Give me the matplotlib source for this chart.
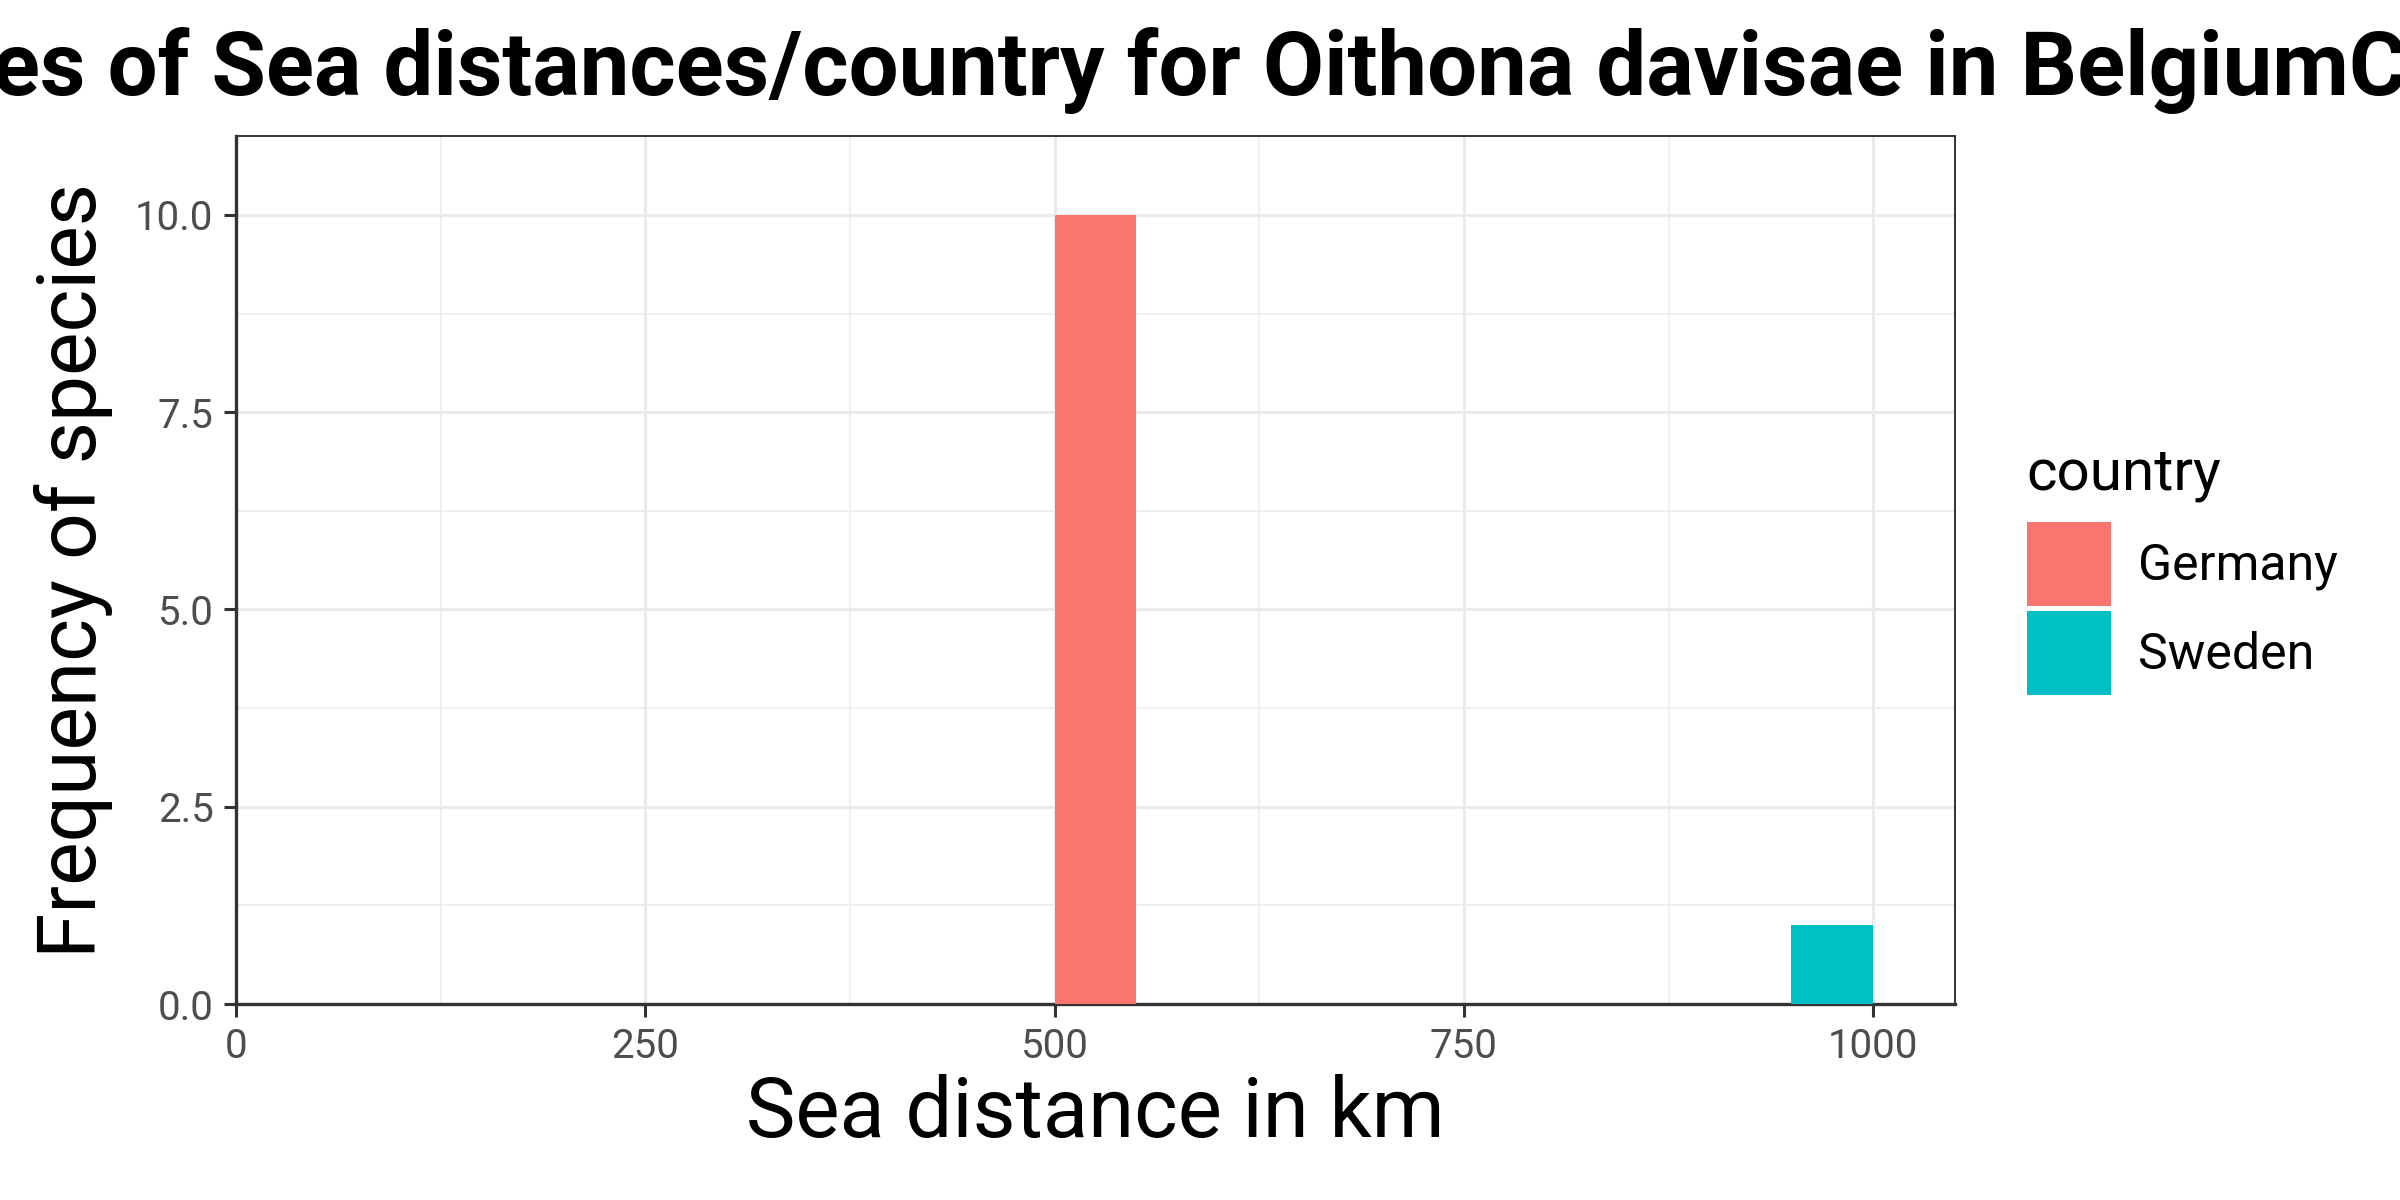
import matplotlib
matplotlib.use("Agg")
import matplotlib.pyplot as plt
from matplotlib.patches import Patch
from matplotlib.ticker import MultipleLocator

plt.rcParams['font.family'] = ['Roboto', 'DejaVu Sans']

# histogram bins (km) and counts per country
countries = ["Germany", "Sweden"]
bin_start = [500, 950]
counts = [10, 1]
bin_width = 50
colors = ["#F8766D", "#00BFC4"]

x_ticks = [0, 250, 500, 750, 1000]
y_ticks = [0.0, 2.5, 5.0, 7.5, 10.0]

title = "Frequencies of Sea distances/country for Oithona davisae in BelgiumC"

fig = plt.figure(figsize=(12, 6), dpi=200)
ax = fig.add_axes([236 / 2400, 1 - 1004 / 1200, (1955 - 236) / 2400, (1004 - 136) / 1200])

for c, x0, n, col in zip(countries, bin_start, counts, colors):
    ax.bar(x0, n, width=bin_width, align='edge', color=col, label=c, zorder=3)

ax.set_xlim(0, 1050)
ax.set_ylim(0, 11)
ax.set_xticks(x_ticks)
ax.set_yticks(y_ticks)
ax.xaxis.set_minor_locator(MultipleLocator(125))
ax.yaxis.set_minor_locator(MultipleLocator(1.25))
ax.set_yticklabels([f"{v:.1f}" for v in y_ticks])

ax.grid(which='major', color='#EBEBEB', linewidth=1.1, zorder=0)
ax.grid(which='minor', color='#EBEBEB', linewidth=0.55, zorder=0)
ax.set_axisbelow(True)

for s in ax.spines.values():
    s.set_color('#333333')
    s.set_linewidth(0.7)
ax.spines['bottom'].set_linewidth(1.2)
ax.spines['left'].set_linewidth(1.2)

ax.tick_params(which='major', length=4.5, width=1.1, color='#333333',
               labelcolor='#4D4D4D', labelsize=14.5, pad=3.6)
ax.tick_params(which='minor', length=0)

ax.set_xlabel("Sea distance in km", fontsize=30, labelpad=3)
ax.set_ylabel("Frequency of species", fontsize=29.5, labelpad=8)

# title is wider than the figure and gets cut on both sides;
# size it so "es ... Belgium" spans about the same width as the reference
fig.canvas.draw()
r = fig.canvas.get_renderer()
probe = fig.text(0, 0, "es of Sea distances/country for Oithona davisae in Belgium",
                 fontsize=32, fontweight='bold')
tsize = 32 * 2357 / probe.get_window_extent(r).width
probe.remove()
probe = fig.text(0, 0, "Frequenci", fontsize=tsize, fontweight='bold')
w = probe.get_window_extent(r).width
probe.remove()
fig.text((-8 - w) / 2400, 1 - 95 / 1200, title, fontsize=tsize, fontweight='bold',
         ha='left', va='baseline')

# legend
fig.text(2026 / 2400, 1 - 490 / 1200, "country", fontsize=21, ha='left', va='baseline')
handles = [Patch(facecolor=col, edgecolor='none') for col in colors]
leg = fig.legend(handles, countries, loc='upper left',
                 bbox_to_anchor=(2027 / 2400, 1 - 522 / 1200), frameon=False,
                 fontsize=18, handlelength=1.68, handleheight=2.208,
                 labelspacing=0.1, handletextpad=0.54, borderpad=0, borderaxespad=0)

fig.savefig("out.png", dpi=200)
